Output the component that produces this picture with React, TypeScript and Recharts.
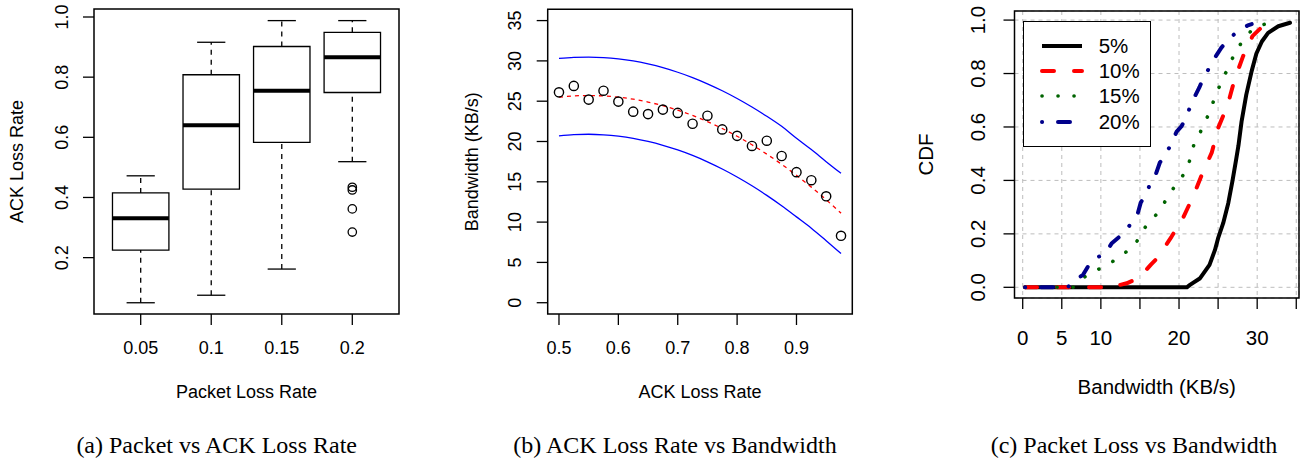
import React from 'react';
import {
  ComposedChart,
  LineChart,
  Line,
  Scatter,
  XAxis,
  YAxis,
  ReferenceArea,
  ReferenceLine,
  CartesianGrid,
  Legend,
} from 'recharts';

// ---------- Panel (a): box plot ----------
const packetLossGroups = ['0.05', '0.1', '0.15', '0.2'];
const boxLow = [0.05, 0.075, 0.162, 0.519];
const boxQ1 = [0.225, 0.428, 0.583, 0.749];
const boxMedian = [0.331, 0.64, 0.755, 0.866];
const boxQ3 = [0.415, 0.808, 0.902, 0.949];
const boxHigh = [0.472, 0.916, 0.988, 0.988];
const outlierGroup = [4, 4, 4, 4];
const outlierValues = [0.434, 0.425, 0.362, 0.285];
const ackTicks = [0.2, 0.4, 0.6, 0.8, 1.0];

// ---------- Panel (b): ACK loss vs bandwidth ----------
const ackRate = [0.5, 0.525, 0.55, 0.575, 0.6, 0.625, 0.65, 0.675, 0.7, 0.725, 0.75, 0.775, 0.8, 0.825, 0.85, 0.875, 0.9, 0.925, 0.95, 0.975];
const bwObserved = [26.1, 26.9, 25.2, 26.3, 24.95, 23.7, 23.4, 23.96, 23.55, 22.2, 23.2, 21.5, 20.7, 19.45, 20.1, 18.2, 16.2, 15.2, 13.2, 8.3];
const bwFit = [25.5, 25.65, 25.7, 25.65, 25.5, 25.25, 24.89, 24.44, 23.88, 23.23, 22.47, 21.61, 20.65, 19.59, 18.43, 17.17, 15.8, 14.34, 12.77, 11.11];
const bwUpper = [30.3, 30.43, 30.47, 30.41, 30.25, 29.99, 29.62, 29.16, 28.59, 27.93, 27.16, 26.3, 25.34, 24.28, 23.13, 21.88, 20.4, 19.0, 17.5, 16.05];
const bwLower = [20.7, 20.85, 20.9, 20.83, 20.66, 20.39, 20.01, 19.53, 18.95, 18.27, 17.48, 16.59, 15.6, 14.51, 13.32, 12.03, 10.65, 9.25, 7.7, 6.1];
const ackRateTicks = [0.5, 0.6, 0.7, 0.8, 0.9];
const bandwidthTicks = [0, 5, 10, 15, 20, 25, 30, 35];

// ---------- Panel (c): CDF ----------
const cdf5Bw = [0.3, 21.0, 21.4, 22.7, 23.9, 24.6, 25.0, 25.65, 26.3, 26.85, 27.3, 27.6, 28.0, 28.6, 29.3, 29.9, 30.6, 31.4, 32.7, 34.2];
const cdf5P = [0, 0, 0.009, 0.034, 0.084, 0.14, 0.184, 0.24, 0.315, 0.4, 0.477, 0.53, 0.62, 0.72, 0.81, 0.875, 0.92, 0.952, 0.977, 0.99];
const cdf10Bw = [0.3, 12.0, 12.45, 13.3, 14.5, 15.4, 16.4, 17.3, 19.05, 20.5, 21.8, 22.9, 24.2, 25.0, 26.2, 27.1, 28.2, 29.4, 30.8, 32.1];
const cdf10P = [0, 0, 0.009, 0.015, 0.03, 0.052, 0.085, 0.112, 0.19, 0.259, 0.34, 0.42, 0.505, 0.596, 0.68, 0.777, 0.865, 0.94, 0.98, 0.99];
const cdf15Bw = [0.3, 6.5, 7.1, 8.2, 9.5, 10.9, 12.1, 13.3, 14.4, 15.1, 15.9, 16.9, 17.8, 18.5, 19.3, 20.2, 21.0, 21.5, 21.9, 22.6, 23.2, 23.9, 24.4, 25.0, 25.6, 26.3, 26.9, 27.6, 28.4, 29.4, 30.8, 31.5];
const cdf15P = [0, 0, 0.017, 0.046, 0.065, 0.084, 0.109, 0.134, 0.16, 0.2, 0.234, 0.265, 0.3, 0.336, 0.371, 0.405, 0.442, 0.487, 0.534, 0.571, 0.615, 0.652, 0.696, 0.74, 0.781, 0.821, 0.861, 0.898, 0.934, 0.965, 0.983, 0.99];
const cdf20Bw = [0.3, 5.8, 6.3, 7.7, 8.6, 9.0, 10.5, 11.4, 12.0, 13.2, 14.1, 14.7, 15.1, 15.9, 16.3, 17.0, 17.55, 18.0, 18.9, 19.7, 20.3, 20.9, 21.6, 22.6, 23.3, 23.9, 24.5, 25.4, 26.1, 26.9, 28.0, 28.8, 29.3];
const cdf20P = [0, 0, 0.021, 0.046, 0.09, 0.105, 0.125, 0.165, 0.18, 0.209, 0.252, 0.274, 0.317, 0.352, 0.39, 0.421, 0.467, 0.484, 0.53, 0.583, 0.602, 0.634, 0.69, 0.748, 0.796, 0.821, 0.855, 0.896, 0.921, 0.943, 0.968, 0.98, 0.985];
const cdfLabels = ['5%', '10%', '15%', '20%'];
const cdfXTicks = [0, 5, 10, 15, 20, 25, 30, 35];
const cdfXTickLabels = ['0', '5', '10', '', '20', '', '30', ''];
const cdfYTicks = [0, 0.2, 0.4, 0.6, 0.8, 1.0];

const captions = ['(a) Packet vs ACK Loss Rate', '(b) ACK Loss Rate vs Bandwidth', '(c) Packet Loss vs Bandwidth'];

// ---------- styling ----------
const SANS = '"Liberation Sans", Arial, Helvetica, sans-serif';
const SERIF = '"Liberation Serif", "Times New Roman", serif';

const cdfStyles = [
  { color: '#000000', dash: undefined as string | undefined, width: 4 },
  { color: '#ff0000', dash: '12 20', width: 4 },
  { color: '#006400', dash: '0.1 15.9', width: 3.6 },
  { color: '#00008b', dash: '0.1 15.9 12 16', width: 4 },
];

// ---------- data tables ----------
const outlierRows = outlierValues.map((v, i) => ({ x: outlierGroup[i], y: v }));
const bwRows = ackRate.map((a, i) => ({
  x: a,
  obs: bwObserved[i],
  fit: bwFit[i],
  upper: bwUpper[i],
  lower: bwLower[i],
}));
const zip = (xs: number[], ps: number[]) => xs.map((x, i) => ({ x, p: ps[i] }));
const cdfSeries = [zip(cdf5Bw, cdf5P), zip(cdf10Bw, cdf10P), zip(cdf15Bw, cdf15P), zip(cdf20Bw, cdf20P)];

// ---------- helpers ----------
const makeXTick = (cy: number, fs: number, fmt: (v: number) => string) => (props: any) => (
  <text
    x={props.x}
    y={cy}
    textAnchor="middle"
    dominantBaseline="central"
    fontFamily={SANS}
    fontSize={fs}
    fill="#000"
  >
    {fmt(props.payload.value)}
  </text>
);

const makeYTick = (cx: number, fs: number, fmt: (v: number) => string) => (props: any) => (
  <text
    x={cx}
    y={props.y}
    transform={`rotate(-90 ${cx} ${props.y})`}
    textAnchor="middle"
    dominantBaseline="central"
    fontFamily={SANS}
    fontSize={fs}
    fill="#000"
  >
    {fmt(props.payload.value)}
  </text>
);

const makeTitle = (x: number, y: number, text: string, fs: number, rotate = false) => () => (
  <text
    x={x}
    y={y}
    transform={rotate ? `rotate(-90 ${x} ${y})` : undefined}
    textAnchor="middle"
    dominantBaseline="central"
    fontFamily={SANS}
    fontSize={fs}
    fill="#000"
  >
    {text}
  </text>
);

const tickLineStyle = { stroke: '#000', strokeWidth: 1.3 };

// ---------- Panel A ----------
const XA: [number, number] = [0.338, 4.662];
const YA: [number, number] = [0.0126, 1.0266];

function PanelA() {
  return (
    <ComposedChart
      width={435}
      height={459}
      data={outlierRows}
      margin={{ top: 9, right: 36, bottom: 85, left: 34 }}
    >
      <XAxis
        type="number"
        dataKey="x"
        domain={XA}
        ticks={[1, 2, 3, 4]}
        allowDataOverflow
        axisLine={false}
        tickLine={tickLineStyle}
        tickSize={11}
        height={60}
        tick={makeXTick(348, 18, (v) => packetLossGroups[v - 1])}
        label={makeTitle(246.5, 392, 'Packet Loss Rate', 18)}
      />
      <YAxis
        type="number"
        domain={YA}
        ticks={ackTicks}
        allowDataOverflow
        axisLine={false}
        tickLine={tickLineStyle}
        tickSize={11}
        width={60}
        tick={makeYTick(61.7, 18, (v) => v.toFixed(1))}
        label={makeTitle(17, 161.5, 'ACK Loss Rate', 18, true)}
      />
      {packetLossGroups.map((g, i) => (
        <ReferenceLine
          key={`wl${g}`}
          segment={[{ x: i + 1, y: boxLow[i] }, { x: i + 1, y: boxQ1[i] }]}
          stroke="#000"
          strokeWidth={1.3}
          strokeDasharray="5 5"
        />
      ))}
      {packetLossGroups.map((g, i) => (
        <ReferenceLine
          key={`wh${g}`}
          segment={[{ x: i + 1, y: boxQ3[i] }, { x: i + 1, y: boxHigh[i] }]}
          stroke="#000"
          strokeWidth={1.3}
          strokeDasharray="5 5"
        />
      ))}
      {packetLossGroups.map((g, i) => (
        <ReferenceLine
          key={`cl${g}`}
          segment={[{ x: i + 1 - 0.2, y: boxLow[i] }, { x: i + 1 + 0.2, y: boxLow[i] }]}
          stroke="#000"
          strokeWidth={1.3}
        />
      ))}
      {packetLossGroups.map((g, i) => (
        <ReferenceLine
          key={`ch${g}`}
          segment={[{ x: i + 1 - 0.2, y: boxHigh[i] }, { x: i + 1 + 0.2, y: boxHigh[i] }]}
          stroke="#000"
          strokeWidth={1.3}
        />
      ))}
      {packetLossGroups.map((g, i) => (
        <ReferenceArea
          key={`b${g}`}
          x1={i + 1 - 0.4}
          x2={i + 1 + 0.4}
          y1={boxQ1[i]}
          y2={boxQ3[i]}
          fill="#fff"
          fillOpacity={1}
          stroke="#000"
          strokeWidth={1.3}
        />
      ))}
      {packetLossGroups.map((g, i) => (
        <ReferenceLine
          key={`m${g}`}
          segment={[{ x: i + 1 - 0.4, y: boxMedian[i] }, { x: i + 1 + 0.4, y: boxMedian[i] }]}
          stroke="#000"
          strokeWidth={4}
        />
      ))}
      <Scatter
        dataKey="y"
        isAnimationActive={false}
        shape={(p: any) => <circle cx={p.cx} cy={p.cy} r={4.2} fill="none" stroke="#000" strokeWidth={1.3} />}
      />
      <ReferenceArea x1={XA[0]} x2={XA[1]} y1={YA[0]} y2={YA[1]} fill="none" stroke="#000" strokeWidth={1.5} ifOverflow="visible" />
    </ComposedChart>
  );
}

// ---------- Panel B ----------
const XB: [number, number] = [0.481, 0.994];
const YB: [number, number] = [-1.4, 36.4];

function PanelB() {
  return (
    <ComposedChart
      width={435}
      height={459}
      data={bwRows}
      margin={{ top: 9.3, right: 17.7, bottom: 85, left: 52.7 }}
    >
      <XAxis
        type="number"
        dataKey="x"
        domain={XB}
        ticks={ackRateTicks}
        allowDataOverflow
        axisLine={false}
        tickLine={tickLineStyle}
        tickSize={11}
        height={60}
        tick={makeXTick(348, 18, (v) => v.toFixed(1))}
        label={makeTitle(265, 392, 'ACK Loss Rate', 18)}
      />
      <YAxis
        type="number"
        domain={YB}
        ticks={bandwidthTicks}
        allowDataOverflow
        axisLine={false}
        tickLine={tickLineStyle}
        tickSize={11}
        width={60}
        tick={makeYTick(80.3, 18, (v) => String(v))}
        label={makeTitle(36.7, 161.7, 'Bandwidth (KB/s)', 18, true)}
      />
      <Line dataKey="upper" type="monotone" stroke="#0000ff" strokeWidth={1.3} dot={false} isAnimationActive={false} />
      <Line dataKey="lower" type="monotone" stroke="#0000ff" strokeWidth={1.3} dot={false} isAnimationActive={false} />
      <Line dataKey="fit" type="monotone" stroke="#ff0000" strokeWidth={1.3} strokeDasharray="4 4" dot={false} isAnimationActive={false} />
      <Scatter
        dataKey="obs"
        isAnimationActive={false}
        shape={(p: any) => <circle cx={p.cx} cy={p.cy} r={4.6} fill="none" stroke="#000" strokeWidth={1.4} />}
      />
      <ReferenceArea x1={XB[0]} x2={XB[1]} y1={YB[0]} y2={YB[1]} fill="none" stroke="#000" strokeWidth={1.5} ifOverflow="visible" />
    </ComposedChart>
  );
}

// ---------- Panel C ----------
const XC: [number, number] = [-1.05, 35.35];
const YC: [number, number] = [-0.04, 1.034];

const renderCdfLegend = () => (
  <div
    style={{
      position: 'relative',
      width: 128,
      height: 126,
      boxSizing: 'border-box',
      border: '1.5px solid #000',
      background: '#fff',
    }}
  >
    {cdfLabels.map((lab, i) => {
      const s = cdfStyles[i];
      const cy = 24 + i * 25.4;
      return (
        <React.Fragment key={lab}>
          <svg style={{ position: 'absolute', left: 0, top: cy - 6 }} width={70} height={12}>
            <line
              x1={18}
              x2={58}
              y1={6}
              y2={6}
              stroke={s.color}
              strokeWidth={s.width}
              strokeDasharray={s.dash}
              strokeLinecap={s.dash ? 'round' : 'butt'}
            />
          </svg>
          <div
            style={{
              position: 'absolute',
              left: 75,
              top: cy - 12,
              height: 24,
              lineHeight: '24px',
              fontFamily: SANS,
              fontSize: 20.5,
              color: '#000',
              whiteSpace: 'nowrap',
            }}
          >
            {lab}
          </div>
        </React.Fragment>
      );
    })}
  </div>
);

function PanelC() {
  return (
    <LineChart width={435} height={459} margin={{ top: 11, right: 6, bottom: 101, left: 84.5 }}>
      <XAxis
        type="number"
        dataKey="x"
        domain={XC}
        ticks={cdfXTicks}
        allowDataOverflow
        axisLine={false}
        tickLine={tickLineStyle}
        tickSize={11}
        height={60}
        tick={makeXTick(337.3, 20.5, (v) => cdfXTickLabels[cdfXTicks.indexOf(v)] ?? '')}
        label={makeTitle(286.75, 386.7, 'Bandwidth (KB/s)', 20.5)}
      />
      <YAxis
        type="number"
        domain={YC}
        ticks={cdfYTicks}
        allowDataOverflow
        axisLine={false}
        tickLine={tickLineStyle}
        tickSize={11}
        width={60}
        tick={makeYTick(107.5, 20.5, (v) => v.toFixed(1))}
        label={makeTitle(55, 154.5, 'CDF', 20.5, true)}
      />
      {cdfSeries.map((d, i) => (
        <Line
          key={cdfLabels[i]}
          data={d}
          dataKey="p"
          name={cdfLabels[i]}
          type="linear"
          stroke={cdfStyles[i].color}
          strokeWidth={cdfStyles[i].width}
          strokeDasharray={cdfStyles[i].dash}
          strokeLinecap="round"
          strokeLinejoin="round"
          dot={false}
          isAnimationActive={false}
        />
      ))}
      <CartesianGrid stroke="#bdbdbd" strokeDasharray="4 4" strokeWidth={1} />
      <ReferenceArea x1={XC[0]} x2={XC[1]} y1={YC[0]} y2={YC[1]} fill="none" stroke="#000" strokeWidth={1.5} ifOverflow="visible" />
      <Legend
        layout="horizontal"
        verticalAlign="middle"
        align="center"
        width={128}
        height={126}
        content={renderCdfLegend}
        wrapperStyle={{ position: 'absolute', left: 152.7, top: 20.7, width: 128, height: 126, margin: 0, padding: 0 }}
      />
    </LineChart>
  );
}

const captionCenters = [216.7, 675, 1134];

export default function App() {
  return (
    <div style={{ position: 'absolute', left: 0, top: 0, width: 1305, height: 459, background: '#fff', overflow: 'hidden' }}>
      <div style={{ position: 'absolute', left: 0, top: 0 }}>
        <PanelA />
      </div>
      <div style={{ position: 'absolute', left: 435, top: 0 }}>
        <PanelB />
      </div>
      <div style={{ position: 'absolute', left: 870, top: 0 }}>
        <PanelC />
      </div>
      {captions.map((c, i) => (
        <div
          key={c}
          style={{
            position: 'absolute',
            left: captionCenters[i] - 200,
            width: 400,
            top: 433,
            height: 24,
            lineHeight: '24px',
            textAlign: 'center',
            fontFamily: SERIF,
            fontSize: 24,
            color: '#000',
            whiteSpace: 'nowrap',
          }}
        >
          {c}
        </div>
      ))}
    </div>
  );
}
